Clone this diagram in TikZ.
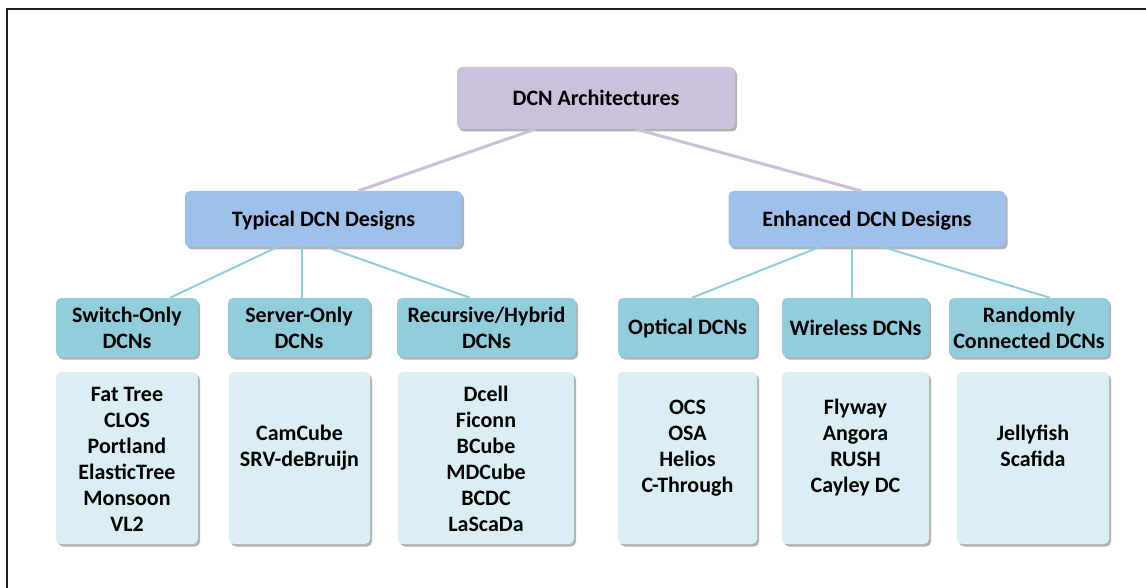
\documentclass[tikz,border=0pt]{standalone}
\usepackage{fontspec}
\setmainfont{Carlito}
\usetikzlibrary{shadows}
\definecolor{rootfill}{RGB}{204,193,218}
\definecolor{midfill}{RGB}{157,193,235}
\definecolor{subfill}{RGB}{146,205,220}
\definecolor{listfill}{RGB}{219,238,244}
\definecolor{frameline}{RGB}{30,30,30}
\newcommand{\ms}{\rule[-2pt]{0pt}{20pt}}
\tikzset{
  boxbase/.style={rounded corners=5pt, inner sep=0pt, align=center,
    font=\fontsize{22}{26}\selectfont\bfseries, text=black,
    drop shadow={shadow xshift=2pt, shadow yshift=-2.5pt, fill=black, opacity=0.3}},
  rootbox/.style={boxbase, fill=rootfill, minimum width=278pt, minimum height=62pt},
  midbox/.style={boxbase, fill=midfill, minimum width=277pt, minimum height=56pt},
  subbox/.style={boxbase, fill=subfill, minimum height=59pt},
  listbox/.style={boxbase, fill=listfill, minimum height=172pt},
  rootline/.style={draw=rootfill, line width=3pt},
  subline/.style={draw=subfill, line width=2pt},
}
\begin{document}
\begin{tikzpicture}[x=1pt,y=-1pt]
\useasboundingbox (0,0) rectangle (1146,588);
\draw[frameline, line width=1.5pt] (7,588) -- (7,9) -- (1146,9);

\node[rootbox] (root) at (596,98) {\ms DCN Architectures\ms};
\node[midbox] (typ) at (323.5,219) {\ms Typical DCN Designs\ms};
\node[midbox] (enh) at (867,219) {\ms Enhanced DCN Designs\ms};

\node[subbox, minimum width=142pt] (sw) at (127,327.5) {\ms Switch-Only\\DCNs\ms};
\node[subbox, minimum width=142pt] (sv) at (299,327.5) {\ms Server-Only\\DCNs\ms};
\node[subbox, minimum width=179pt] (rh) at (486.5,327.5) {\ms Recursive/Hybrid\\DCNs\ms};
\node[subbox, minimum width=139pt] (op) at (687.5,327.5) {\ms Optical DCNs\ms};
\node[subbox, minimum width=147pt] (wl) at (855.5,327.5) {\ms Wireless DCNs\ms};
\node[subbox, minimum width=160pt] (rc) at (1029,327.5) {\ms Randomly\\Connected DCNs\ms};

\node[listbox, minimum width=142pt] (swl) at (127,458) {\ms Fat Tree\\CLOS\\Portland\\ElasticTree\\Monsoon\\VL2\ms};
\node[listbox, minimum width=141pt] (svl) at (299.5,458) {\ms CamCube\\SRV-deBruijn\\\ms};
\node[listbox, minimum width=176pt] (rhl) at (486,458) {\ms Dcell\\Ficonn\\BCube\\MDCube\\BCDC\\LaScaDa\ms};
\node[listbox, minimum width=139pt] (opl) at (687.5,458) {\ms OCS\\OSA\\Helios\\C-Through\\\ms};
\node[listbox, minimum width=147pt] (wll) at (855.5,458) {\ms Flyway\\Angora\\RUSH\\Cayley DC\\\ms};
\node[listbox, minimum width=152pt] (rcl) at (1033,458) {\ms Jellyfish\\Scafida\\\ms};

\draw[rootline] ([xshift=-61pt]root.south) -- ([xshift=35pt]typ.north);
\draw[rootline] ([xshift=40pt]root.south) -- ([xshift=-6pt]enh.north);

\draw[subline] ([xshift=-46.5pt]typ.south) -- ([xshift=43pt]sw.north);
\draw[subline] ([xshift=-21.5pt]typ.south) -- ([xshift=3pt]sv.north);
\draw[subline] ([xshift=3.5pt]typ.south) -- ([xshift=-16.5pt]rh.north);
\draw[subline] ([xshift=-48pt]enh.south) -- ([xshift=4.5pt]op.north);
\draw[subline] ([xshift=-15pt]enh.south) -- ([xshift=-3.5pt]wl.north);
\draw[subline] ([xshift=16.5pt]enh.south) -- ([xshift=21pt]rc.north);
\end{tikzpicture}
\end{document}
